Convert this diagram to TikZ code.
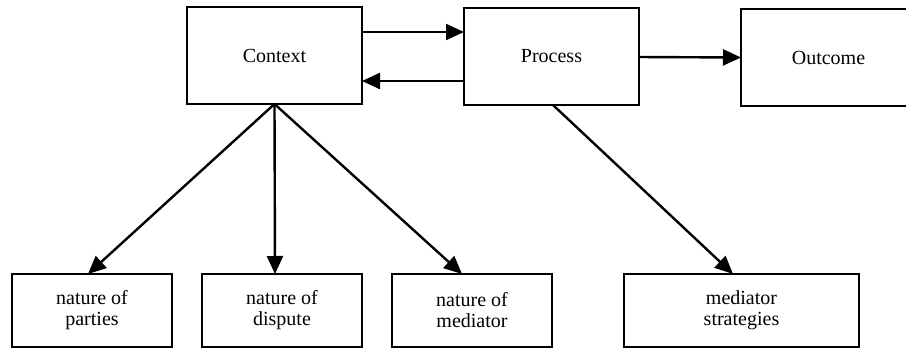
\documentclass[tikz,border=0pt]{standalone}
\usepackage{fontspec}
\setmainfont{Liberation Serif}
\usetikzlibrary{arrows.meta}
\begin{document}
\begin{tikzpicture}[x=1pt,y=-1pt,
  box/.style={draw, line width=2.5pt, inner sep=0pt, outer sep=0pt, align=center,
    font=\fontsize{20}{21}\selectfont},
  arr/.style={line width=2.4pt, -{Triangle[length=18pt,width=16pt]}}]
\useasboundingbox (0,0) rectangle (906,349);
\node[box, minimum width=175pt, minimum height=97pt] (ctx) at (274.5,55.5) {Context};
\node[box, minimum width=175pt, minimum height=97pt] (proc) at (551.5,56.5) {Process};
\node[box, minimum width=185pt, minimum height=97pt] (out) at (833.5,57.5) {\hspace*{-10pt}Outcome};
\node[box, minimum width=160pt, minimum height=73pt] (par) at (92,310.5) {nature of\\parties};
\node[box, minimum width=160pt, minimum height=73pt] (dis) at (282,310.5) {nature of\\dispute};
\node[box, minimum width=160pt, minimum height=73pt] (med) at (472,310.5) {nature of\\mediator};
\node[box, minimum width=235pt, minimum height=73pt] (str) at (741.5,310.5) {mediator\\strategies};
\draw[arr] ([yshift=23.5pt]ctx.east) -- ([yshift=24.5pt]proc.west);
\draw[arr] ([yshift=-24.5pt]proc.west) -- ([yshift=-25.5pt]ctx.east);
\draw[arr] ([yshift=-0.5pt]proc.east) -- (out.west);
\draw[arr] (ctx.south) -- ([xshift=-4pt]par.north);
\draw[arr] (ctx.south) -- ([xshift=-7pt]dis.north);
\draw[arr] (ctx.south) -- ([xshift=-10pt]med.north);
\draw[arr] ([xshift=1.5pt]proc.south) -- ([xshift=-8.5pt]str.north);
\end{tikzpicture}
\end{document}
